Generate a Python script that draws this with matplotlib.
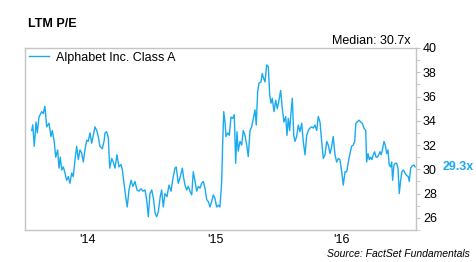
import matplotlib.pyplot as plt
import numpy as np

####### DATA #######

# time as decimal year, LTM P/E multiple
years = [2013.557, 2013.565, 2013.577, 2013.591, 2013.601, 2013.614, 2013.635, 2013.648, 2013.661, 2013.675,
         2013.693, 2013.709, 2013.719, 2013.735, 2013.746, 2013.761, 2013.772, 2013.782, 2013.793, 2013.806,
         2013.819, 2013.832, 2013.845, 2013.858, 2013.872, 2013.884, 2013.898, 2013.911, 2013.924, 2013.937,
         2013.950, 2013.963, 2013.976, 2013.990, 2014.002, 2014.016, 2014.029, 2014.042, 2014.055, 2014.069,
         2014.081, 2014.094, 2014.113, 2014.128, 2014.134, 2014.147, 2014.160, 2014.171, 2014.187, 2014.199,
         2014.213, 2014.228, 2014.244, 2014.260, 2014.270, 2014.281, 2014.297, 2014.309, 2014.323, 2014.339,
         2014.354, 2014.370, 2014.386, 2014.402, 2014.417, 2014.433, 2014.449, 2014.462, 2014.475, 2014.488,
         2014.502, 2014.517, 2014.528, 2014.541, 2014.554, 2014.569, 2014.580, 2014.593, 2014.606, 2014.622,
         2014.638, 2014.654, 2014.669, 2014.685, 2014.695, 2014.711, 2014.727, 2014.743, 2014.754, 2014.764,
         2014.777, 2014.790, 2014.803, 2014.817, 2014.829, 2014.843, 2014.856, 2014.869, 2014.882, 2014.895,
         2014.908, 2014.921, 2014.935, 2014.947, 2014.961, 2014.974, 2014.987, 2015.000, 2015.013, 2015.026,
         2015.039, 2015.053, 2015.061, 2015.069, 2015.079, 2015.087, 2015.100, 2015.113, 2015.126, 2015.139,
         2015.152, 2015.163, 2015.173, 2015.183, 2015.197, 2015.210, 2015.223, 2015.236, 2015.250, 2015.262,
         2015.276, 2015.289, 2015.302, 2015.315, 2015.325, 2015.336, 2015.346, 2015.362, 2015.372, 2015.383,
         2015.394, 2015.407, 2015.420, 2015.431, 2015.441, 2015.451, 2015.465, 2015.478, 2015.491, 2015.504,
         2015.517, 2015.530, 2015.543, 2015.557, 2015.567, 2015.577, 2015.588, 2015.598, 2015.609, 2015.620,
         2015.630, 2015.643, 2015.656, 2015.669, 2015.683, 2015.695, 2015.709, 2015.722, 2015.735, 2015.748,
         2015.761, 2015.774, 2015.787, 2015.801, 2015.813, 2015.827, 2015.840, 2015.853, 2015.866, 2015.880,
         2015.892, 2015.906, 2015.919, 2015.931, 2015.945, 2015.958, 2015.971, 2015.984, 2015.998, 2016.010,
         2016.024, 2016.037, 2016.050, 2016.063, 2016.076, 2016.089, 2016.100, 2016.110, 2016.120, 2016.134,
         2016.147, 2016.160, 2016.173, 2016.187, 2016.194, 2016.205, 2016.215, 2016.226, 2016.236, 2016.246,
         2016.257, 2016.268, 2016.278, 2016.289, 2016.299, 2016.309, 2016.320, 2016.331, 2016.341, 2016.352,
         2016.362, 2016.372, 2016.383, 2016.391, 2016.399, 2016.409, 2016.420, 2016.431, 2016.441, 2016.451,
         2016.462, 2016.472, 2016.483, 2016.496, 2016.509, 2016.522, 2016.530, 2016.541, 2016.554, 2016.567,
         2016.576]

pe = [33.2, 33.66, 31.9, 33.9, 33.0, 34.3, 34.75, 34.6, 35.2, 33.5,
      33.8, 32.7, 33.2, 32.2, 31.0, 31.6, 30.1, 31.0, 29.95, 30.2,
      29.7, 29.1, 29.4, 28.85, 29.7, 29.4, 30.8, 31.9, 30.8, 31.6,
      31.35, 30.6, 31.6, 32.4, 32.3, 33.0, 32.15, 32.8, 33.5, 33.2,
      32.7, 31.9, 31.7, 32.4, 33.0, 33.1, 32.6, 30.1, 30.9, 30.6,
      30.1, 31.2, 30.2, 30.4, 30.0, 29.1, 27.75, 26.9, 28.3, 29.1,
      28.6, 29.0, 28.3, 28.2, 28.4, 28.2, 28.3, 27.5, 26.1, 28.0,
      28.3, 27.5, 26.4, 26.1, 26.5, 27.75, 28.3, 26.9, 28.0, 27.75,
      28.7, 28.2, 29.25, 30.1, 30.2, 28.85, 29.4, 30.1, 29.25, 28.7,
      28.3, 28.6, 28.2, 27.9, 29.8, 29.0, 28.2, 28.6, 28.45, 28.85,
      29.0, 28.45, 27.5, 27.35, 26.9, 27.35, 27.9, 27.6, 26.9, 27.05,
      26.9, 29.0, 32.3, 34.75, 33.9, 32.7, 33.0, 32.8, 34.3, 34.2,
      34.5, 30.5, 33.1, 31.5, 32.3, 32.0, 33.2, 32.8, 32.0, 31.05,
      33.2, 33.5, 34.2, 34.9, 33.65, 36.4, 37.1, 37.2, 37.9, 37.5,
      37.2, 38.6, 38.45, 36.1, 35.45, 35.85, 34.75, 35.7, 35.0, 35.7,
      36.5, 35.0, 33.9, 34.35, 32.8, 34.2, 33.2, 34.6, 35.85, 32.8,
      32.3, 32.7, 33.65, 33.1, 33.8, 32.3, 31.2, 32.8, 33.2, 33.4,
      33.5, 33.4, 33.65, 33.2, 34.35, 33.9, 32.3, 30.9, 31.2, 32.3,
      32.0, 31.3, 31.9, 32.7, 31.2, 30.6, 30.9, 30.8, 29.8, 28.7,
      29.8, 29.8, 30.6, 31.3, 31.9, 32.0, 32.3, 33.8, 33.9, 34.05,
      33.9, 33.8, 33.4, 33.2, 30.6, 31.3, 30.8, 31.0, 30.8, 31.2,
      31.45, 31.0, 31.0, 31.2, 31.45, 31.2, 31.7, 32.3, 32.0, 31.3,
      31.6, 30.35, 30.2, 30.6, 29.1, 30.35, 30.5, 30.5, 30.1, 28.0,
      29.1, 29.8, 29.95, 29.7, 29.5, 29.4, 29.0, 30.1, 30.3, 30.35,
      30.2]

year_ticks = [2014, 2015, 2016]
year_labels = ["'14", "'15", "'16"]
y_ticks = [26, 28, 30, 32, 34, 36, 38, 40]

median_text = 'Median: 30.7x'
last_text = '29.3x'
series_name = 'Alphabet Inc. Class A'

####### PLOT #######

plt.rcParams['font.family'] = ['Liberation Sans', 'DejaVu Sans']
blue = '#1aaaee'
grey = '#c4c4c4'
fs = 9

fig = plt.figure(figsize=(4.76, 2.62), dpi=100)
ax = fig.add_axes([0.0525, 0.122, 0.8215, 0.695])

ax.plot(years, pe, color=blue, lw=1.0, label=series_name)

ax.set_xlim(2013.504, 2016.583)
ax.set_ylim(25, 40)

ax.set_xticks(year_ticks)
ax.set_xticklabels(year_labels, fontsize=fs)
ax.tick_params(axis='x', length=0, pad=3)

ax.yaxis.tick_right()
ax.set_yticks(y_ticks)
ax.set_yticks(np.arange(25, 40, 2), minor=True)
ax.tick_params(axis='y', which='both', length=3, color=grey, labelsize=fs, pad=2)

for s in ax.spines.values():
    s.set_color(grey)
    s.set_linewidth(1.0)

leg = ax.legend(loc='upper left', frameon=False, fontsize=fs, handlelength=1.6,
                handletextpad=0.6, borderaxespad=0.1, borderpad=0.2)

fig.text(28/476, 1 - 24/262, 'LTM P/E', fontsize=fs, fontweight='bold', va='center')
fig.text(411/476, 1 - 41/262, median_text, fontsize=fs, ha='right', va='center')
ax.annotate(last_text, xy=(1.0, pe[-1]), xycoords=('axes fraction', 'data'),
            xytext=(19, 0), textcoords='offset points', color=blue,
            fontsize=fs, fontweight='bold', va='center', ha='left')
fig.text(470/476, 1 - 254/262, 'Source: FactSet Fundamentals', fontsize=7.5,
         style='italic', ha='right', va='center')

fig.savefig('out.png', dpi=100)
